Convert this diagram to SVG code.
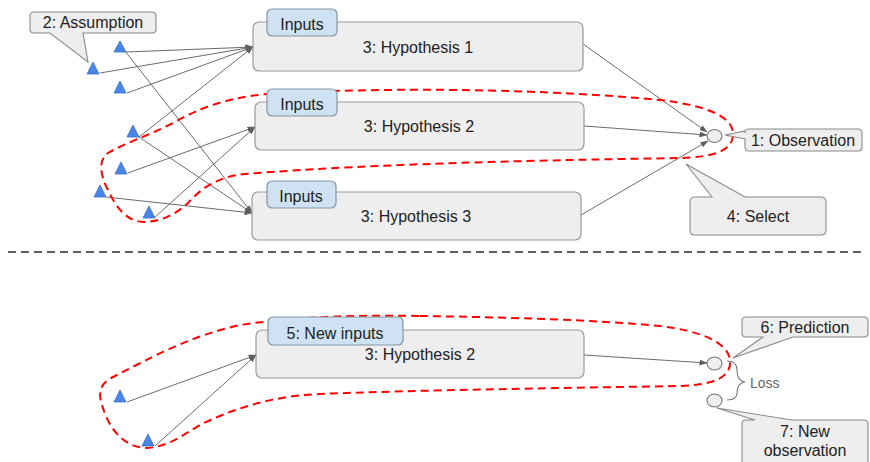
<svg xmlns="http://www.w3.org/2000/svg" width="870" height="462" viewBox="0 0 870 462">
<defs>
<style>
text{font-family:"Liberation Sans",Arial,sans-serif;font-size:16px;fill:#222;}
.box{fill:#eeeeee;stroke:#9a9a9a;stroke-width:1.2;}
.tab{fill:#cfe2f3;stroke:#8593a1;stroke-width:1.2;}
.tri{fill:#4a86e8;stroke:#3b6fc6;stroke-width:0.8;}
.call{fill:#eeeeee;stroke:#8a8a8a;stroke-width:1.1;}
.circ{fill:#eeeeee;stroke:#777;stroke-width:1.1;}
.con{stroke:#6b6b6b;stroke-width:1;fill:none;marker-end:url(#ah);}
.loop{fill:none;stroke:#ff0000;stroke-width:2;stroke-dasharray:8 5;}
.c{text-anchor:middle;}
</style>
<marker id="ah" viewBox="0 0 8 6" refX="7.5" refY="3" markerWidth="8" markerHeight="6" markerUnits="userSpaceOnUse" orient="auto">
<path d="M0,0 L8,3 L0,6 Z" fill="#5f5f5f"/>
</marker>
</defs>

<line x1="8" y1="252" x2="862" y2="252" stroke="#5f5f5f" stroke-width="2" stroke-dasharray="8 5"/>

<g id="connectors">
<line class="con" x1="126" y1="52" x2="253" y2="47"/>
<line class="con" x1="125" y1="51" x2="252" y2="213"/>
<line class="con" x1="100" y1="73" x2="253" y2="47"/>
<line class="con" x1="127" y1="93" x2="253" y2="47"/>
<line class="con" x1="139" y1="137" x2="253" y2="47"/>
<line class="con" x1="139" y1="137" x2="252" y2="213"/>
<line class="con" x1="128" y1="173" x2="255" y2="127"/>
<line class="con" x1="106" y1="197" x2="252" y2="213"/>
<line class="con" x1="155" y1="217" x2="255" y2="127"/>
<line class="con" x1="583" y1="44" x2="707" y2="132"/>
<line class="con" x1="584" y1="126" x2="707" y2="135"/>
<line class="con" x1="581" y1="215" x2="708" y2="141"/>
<line class="con" x1="127" y1="402" x2="256" y2="355"/>
<line class="con" x1="155" y1="446" x2="256" y2="355"/>
<line class="con" x1="584" y1="355" x2="707" y2="363"/>
</g>

<g id="selection-loops">
<path class="loop" d="M267,94 C400,86 560,90 660,100 C710,106 735,118 733,136 C731,152 712,157 680,158 C560,160 380,163 245,174 C215,177 200,190 188,203 C175,215 160,222 143,222 C125,221 115,205 108,190 C100,175 98,160 108,153 C125,143 150,135 175,122 C200,108 225,98 267,94 Z"/>
<path class="loop" d="M420,316 C500,317 600,320 660,326 C700,331 728,342 730,360 C732,378 712,385 680,386 C560,388 420,390 320,394 C270,396 230,410 200,425 C180,437 165,448 145,448 C120,446 108,425 102,405 C97,390 102,382 115,376 C150,358 190,336 240,325 C300,316 360,315 420,316 Z"/>
</g>

<g id="assumption">
<path class="call" d="M34,12 H152 Q156,12 156,16 V29 Q156,33 152,33 H83 L88,62 L50,33 H34 Q30,33 30,29 V16 Q30,12 34,12 Z"/>
<text class="c" x="93" y="28">2: Assumption</text>
</g>

<g id="inputs-triangles">
<polygon class="tri" points="120,41 126,52 114,52"/>
<polygon class="tri" points="93,62 99,74 87,74"/>
<polygon class="tri" points="120,81 126,93 114,93"/>
<polygon class="tri" points="133,125 139,137 127,137"/>
<polygon class="tri" points="121,162 127,174 115,174"/>
<polygon class="tri" points="100,185 106,197 94,197"/>
<polygon class="tri" points="149,206 155,218 143,218"/>
<polygon class="tri" points="120,390 126,402 114,402"/>
<polygon class="tri" points="148,434 154,446 142,446"/>
</g>

<g id="hypothesis1">
<rect class="box" x="253" y="22" width="330" height="49" rx="6"/>
<text class="c" x="418" y="53">3: Hypothesis 1</text>
<rect class="tab" x="267" y="9" width="70" height="27" rx="5"/>
<text class="c" x="302" y="30">Inputs</text>
</g>

<g id="hypothesis2">
<rect class="box" x="255" y="102" width="329" height="48" rx="6"/>
<text class="c" x="419" y="132">3: Hypothesis 2</text>
<rect class="tab" x="267" y="89" width="70" height="27" rx="5"/>
<text class="c" x="302" y="110">Inputs</text>
</g>

<g id="hypothesis3">
<rect class="box" x="252" y="192" width="329" height="48" rx="6"/>
<text class="c" x="416" y="222">3: Hypothesis 3</text>
<rect class="tab" x="267" y="181" width="69" height="27" rx="5"/>
<text class="c" x="301" y="202">Inputs</text>
</g>

<g id="observation">
<ellipse class="circ" cx="714.5" cy="136" rx="7.5" ry="6.5"/>
<path class="call" d="M749,129 H858 Q862,129 862,133 V147 Q862,151 858,151 H749 Q745,151 745,147 V139 L725,135 L745,131 V133 Q745,129 749,129 Z"/>
<text class="c" x="803" y="146">1: Observation</text>
</g>

<g id="select">
<path class="call" d="M695,197 H712 L686,164 L745,197 H821 Q826,197 826,202 V230 Q826,235 821,235 H695 Q690,235 690,230 V202 Q690,197 695,197 Z"/>
<text class="c" x="758" y="222">4: Select</text>
</g>

<g id="hypothesis2-new">
<rect class="box" x="256" y="330" width="328" height="48" rx="6"/>
<text class="c" x="420" y="360">3: Hypothesis 2</text>
<rect class="tab" x="268" y="317" width="135" height="28" rx="5"/>
<text class="c" x="335" y="339">5: New inputs</text>
</g>

<g id="prediction">
<ellipse class="circ" cx="714.5" cy="363.5" rx="7.5" ry="6.5"/>
<path class="call" d="M746,317 H864 Q868,317 868,321 V333 Q868,337 864,337 H793 L733,358 L763,337 H746 Q742,337 742,333 V321 Q742,317 746,317 Z"/>
<text class="c" x="805" y="333">6: Prediction</text>
</g>

<g id="new-observation">
<ellipse class="circ" cx="714.5" cy="400.5" rx="7.5" ry="6.5"/>
<path class="call" d="M746,420 H755 L717,408 L792,420 H864 Q868,420 868,424 V466 H742 V424 Q742,420 746,420 Z"/>
<text class="c" x="805" y="437">7: New</text>
<text class="c" x="805" y="456">observation</text>
</g>

<g id="loss">
<path d="M727,361 Q737,361 737,370 Q737,381 745,382 Q737,383 737,393 Q737,400 727,400" fill="none" stroke="#777" stroke-width="1.1"/>
<text x="750" y="388" style="font-size:14px;fill:#666">Loss</text>
</g>
</svg>
